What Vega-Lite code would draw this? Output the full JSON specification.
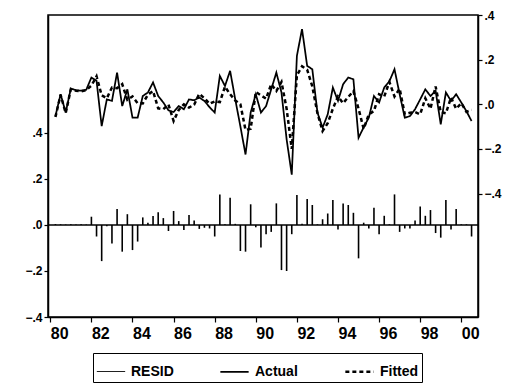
{
  "$schema": "https://vega.github.io/schema/vega-lite/v6.json",
  "width": 430,
  "height": 302,
  "autosize": {"type": "none"},
  "padding": {"left": 48, "top": 15, "right": 34, "bottom": 72},
  "background": "white",
  "config": {
    "view": {"stroke": "black", "strokeWidth": 1.5},
    "axis": {"grid": false, "domainColor": "black", "domainWidth": 1.5, "tickColor": "black", "tickWidth": 1.2, "labelColor": "black", "labelFont": "Liberation Sans", "labelFontWeight": "bold", "title": null}
  },
  "datasets": {
    "q": [
      {"t": 1980.25, "Actual": -0.053, "Fitted": -0.057, "RESID": 0.004},
      {"t": 1980.5, "Actual": 0.045, "Fitted": 0.042, "RESID": 0.003},
      {"t": 1980.75, "Actual": -0.037, "Fitted": -0.039, "RESID": 0.002},
      {"t": 1981.0, "Actual": 0.071, "Fitted": 0.068, "RESID": 0.003},
      {"t": 1981.25, "Actual": 0.063, "Fitted": 0.061, "RESID": 0.002},
      {"t": 1981.5, "Actual": 0.061, "Fitted": 0.058, "RESID": 0.003},
      {"t": 1981.75, "Actual": 0.065, "Fitted": 0.063, "RESID": 0.002},
      {"t": 1982.0, "Actual": 0.120, "Fitted": 0.084, "RESID": 0.036},
      {"t": 1982.25, "Actual": 0.105, "Fitted": 0.125, "RESID": -0.05},
      {"t": 1982.5, "Actual": -0.098, "Fitted": 0.04, "RESID": -0.157},
      {"t": 1982.75, "Actual": 0.022, "Fitted": 0.027, "RESID": -0.005},
      {"t": 1983.0, "Actual": 0.015, "Fitted": 0.075, "RESID": -0.08},
      {"t": 1983.25, "Actual": 0.142, "Fitted": 0.072, "RESID": 0.07},
      {"t": 1983.5, "Actual": -0.008, "Fitted": 0.09, "RESID": -0.116},
      {"t": 1983.75, "Actual": 0.067, "Fitted": 0.020, "RESID": 0.047},
      {"t": 1984.0, "Actual": -0.060, "Fitted": 0.035, "RESID": -0.109},
      {"t": 1984.25, "Actual": -0.060, "Fitted": 0.005, "RESID": -0.072},
      {"t": 1984.5, "Actual": 0.037, "Fitted": 0.004, "RESID": 0.033},
      {"t": 1984.75, "Actual": 0.053, "Fitted": 0.043, "RESID": 0.01},
      {"t": 1985.0, "Actual": 0.098, "Fitted": 0.059, "RESID": 0.039},
      {"t": 1985.25, "Actual": 0.037, "Fitted": -0.018, "RESID": 0.055},
      {"t": 1985.5, "Actual": 0.008, "Fitted": -0.022, "RESID": 0.03},
      {"t": 1985.75, "Actual": -0.027, "Fitted": -0.001, "RESID": -0.026},
      {"t": 1986.0, "Actual": -0.035, "Fitted": -0.075, "RESID": 0.061},
      {"t": 1986.25, "Actual": -0.008, "Fitted": -0.025, "RESID": 0.017},
      {"t": 1986.5, "Actual": -0.022, "Fitted": 0.0, "RESID": -0.022},
      {"t": 1986.75, "Actual": 0.022, "Fitted": -0.015, "RESID": 0.043},
      {"t": 1987.0, "Actual": 0.018, "Fitted": -0.002, "RESID": 0.02},
      {"t": 1987.25, "Actual": 0.030, "Fitted": 0.047, "RESID": -0.017},
      {"t": 1987.5, "Actual": 0.015, "Fitted": 0.027, "RESID": -0.012},
      {"t": 1987.75, "Actual": -0.013, "Fitted": 0.002, "RESID": -0.015},
      {"t": 1988.0, "Actual": -0.037, "Fitted": 0.013, "RESID": -0.05},
      {"t": 1988.25, "Actual": 0.127, "Fitted": 0.01, "RESID": 0.133},
      {"t": 1988.5, "Actual": 0.082, "Fitted": 0.079, "RESID": 0.003},
      {"t": 1988.75, "Actual": 0.150, "Fitted": 0.045, "RESID": 0.119},
      {"t": 1989.0, "Actual": 0.022, "Fitted": 0.017, "RESID": 0.005},
      {"t": 1989.25, "Actual": -0.099, "Fitted": 0.0, "RESID": -0.113},
      {"t": 1989.5, "Actual": -0.225, "Fitted": -0.115, "RESID": -0.116},
      {"t": 1989.75, "Actual": -0.037, "Fitted": -0.11, "RESID": 0.09},
      {"t": 1990.0, "Actual": 0.045, "Fitted": 0.055, "RESID": -0.01},
      {"t": 1990.25, "Actual": -0.037, "Fitted": 0.04, "RESID": -0.098},
      {"t": 1990.5, "Actual": -0.008, "Fitted": 0.025, "RESID": -0.04},
      {"t": 1990.75, "Actual": 0.067, "Fitted": 0.09, "RESID": -0.03},
      {"t": 1991.0, "Actual": 0.142, "Fitted": 0.06, "RESID": 0.094},
      {"t": 1991.25, "Actual": 0.053, "Fitted": 0.10, "RESID": -0.196},
      {"t": 1991.5, "Actual": -0.157, "Fitted": -0.02, "RESID": -0.2},
      {"t": 1991.75, "Actual": -0.315, "Fitted": -0.2, "RESID": -0.04},
      {"t": 1992.0, "Actual": 0.217, "Fitted": 0.13, "RESID": 0.13},
      {"t": 1992.25, "Actual": 0.337, "Fitted": 0.17, "RESID": 0.005},
      {"t": 1992.5, "Actual": 0.172, "Fitted": 0.155, "RESID": 0.113},
      {"t": 1992.75, "Actual": 0.157, "Fitted": 0.08, "RESID": 0.087},
      {"t": 1993.0, "Actual": -0.037, "Fitted": -0.04, "RESID": 0.003},
      {"t": 1993.25, "Actual": -0.105, "Fitted": -0.12, "RESID": 0.025},
      {"t": 1993.5, "Actual": -0.045, "Fitted": -0.085, "RESID": 0.05},
      {"t": 1993.75, "Actual": 0.075, "Fitted": -0.02, "RESID": 0.109},
      {"t": 1994.0, "Actual": 0.015, "Fitted": 0.035, "RESID": -0.02},
      {"t": 1994.25, "Actual": 0.090, "Fitted": 0.005, "RESID": 0.094},
      {"t": 1994.5, "Actual": 0.120, "Fitted": 0.033, "RESID": 0.087},
      {"t": 1994.75, "Actual": 0.112, "Fitted": 0.059, "RESID": 0.053},
      {"t": 1995.0, "Actual": -0.150, "Fitted": -0.02, "RESID": -0.145},
      {"t": 1995.25, "Actual": -0.103, "Fitted": -0.11, "RESID": 0.01},
      {"t": 1995.5, "Actual": -0.060, "Fitted": -0.045, "RESID": -0.015},
      {"t": 1995.75, "Actual": 0.037, "Fitted": -0.03, "RESID": 0.075},
      {"t": 1996.0, "Actual": 0.008, "Fitted": 0.045, "RESID": -0.04},
      {"t": 1996.25, "Actual": 0.075, "Fitted": 0.035, "RESID": 0.04},
      {"t": 1996.5, "Actual": 0.103, "Fitted": 0.1, "RESID": 0.003},
      {"t": 1996.75, "Actual": 0.157, "Fitted": 0.035, "RESID": 0.133},
      {"t": 1997.0, "Actual": 0.045, "Fitted": 0.07, "RESID": -0.03},
      {"t": 1997.25, "Actual": -0.060, "Fitted": -0.045, "RESID": -0.015},
      {"t": 1997.5, "Actual": -0.053, "Fitted": -0.038, "RESID": -0.015},
      {"t": 1997.75, "Actual": -0.022, "Fitted": -0.035, "RESID": 0.02},
      {"t": 1998.0, "Actual": 0.022, "Fitted": -0.045, "RESID": 0.08},
      {"t": 1998.25, "Actual": 0.067, "Fitted": 0.027, "RESID": 0.04},
      {"t": 1998.5, "Actual": 0.037, "Fitted": -0.02, "RESID": 0.065},
      {"t": 1998.75, "Actual": 0.060, "Fitted": 0.08, "RESID": -0.035},
      {"t": 1999.0, "Actual": -0.090, "Fitted": -0.035, "RESID": -0.055},
      {"t": 1999.25, "Actual": 0.053, "Fitted": -0.04, "RESID": 0.109},
      {"t": 1999.5, "Actual": 0.015, "Fitted": 0.03, "RESID": -0.02},
      {"t": 1999.75, "Actual": 0.045, "Fitted": -0.02, "RESID": 0.07},
      {"t": 2000.0, "Actual": 0.008, "Fitted": 0.005, "RESID": 0.003},
      {"t": 2000.25, "Actual": -0.031, "Fitted": -0.034, "RESID": 0.003},
      {"t": 2000.5, "Actual": -0.075, "Fitted": -0.025, "RESID": -0.05}
    ]
  },
  "data": {"name": "q"},
  "layer": [
    {
      "layer": [
        {
          "data": {"values": [{}]},
          "mark": {"type": "rule", "color": "black", "strokeWidth": 1.5},
          "encoding": {
            "y": {"datum": 0, "type": "quantitative", "scale": {"domain": [-0.4, 0.913], "nice": false, "zero": false}}
          }
        },
        {
          "mark": {"type": "rule", "color": "black", "strokeWidth": 1.6},
          "encoding": {
            "x": {
              "field": "t", "type": "quantitative",
              "scale": {"domain": [1979.888, 2000.813], "nice": false, "zero": false},
              "axis": {"values": [1980,1981,1982,1983,1984,1985,1986,1987,1988,1989,1990,1991,1992,1993,1994,1995,1996,1997,1998,1999,2000], "labelExpr": "datum.value % 2 == 0 ? substring(toString(datum.value), 2, 4) : ''", "labelAlign": "left", "labelFlush": false, "labelOverlap": false, "labelFontSize": 16, "tickSize": 5, "labelPadding": 3}
            },
            "y": {
              "field": "RESID", "type": "quantitative",
              "scale": {"domain": [-0.4, 0.913], "nice": false, "zero": false},
              "axis": {"orient": "left", "values": [-0.4, -0.2, 0, 0.2, 0.4], "labelExpr": "replace(format(datum.value, '.1f'), '0.', '.')", "labelFontSize": 12, "tickSize": 4, "labelPadding": 2}
            },
            "y2": {"datum": 0}
          }
        }
      ]
    },
    {
      "transform": [{"fold": ["Actual", "Fitted"], "as": ["series", "value"]}],
      "mark": {"type": "line"},
      "encoding": {
        "x": {"field": "t", "type": "quantitative"},
        "y": {
          "field": "value", "type": "quantitative",
          "scale": {"domain": [-0.953, 0.4], "nice": false, "zero": false},
          "axis": {"orient": "right", "values": [-0.4, -0.2, 0, 0.2, 0.4], "labelExpr": "replace(format(datum.value, '.1f'), '0.', '.')", "labelFontSize": 12, "tickSize": 4, "labelPadding": 2}
        },
        "color": {
          "field": "series", "type": "nominal",
          "scale": {"domain": ["RESID", "Actual", "Fitted"], "range": ["black", "black", "black"]},
          "legend": {"title": null, "orient": "none", "legendX": 45, "legendY": 338, "direction": "horizontal", "symbolType": "stroke", "symbolSize": 800, "strokeColor": "black", "padding": 3, "labelFont": "Liberation Sans", "labelFontSize": 14, "labelFontWeight": "bold", "labelColor": "black", "columnPadding": 42, "labelOffset": 5}
        },
        "strokeDash": {
          "field": "series", "type": "nominal",
          "scale": {"domain": ["RESID", "Actual", "Fitted"], "range": [[1, 0], [1, 0], [4, 3]]}
        },
        "strokeWidth": {
          "field": "series", "type": "nominal",
          "scale": {"domain": ["RESID", "Actual", "Fitted"], "range": [1, 2.5, 1.6]}
        }
      }
    }
  ],
  "resolve": {"scale": {"y": "independent"}}
}
